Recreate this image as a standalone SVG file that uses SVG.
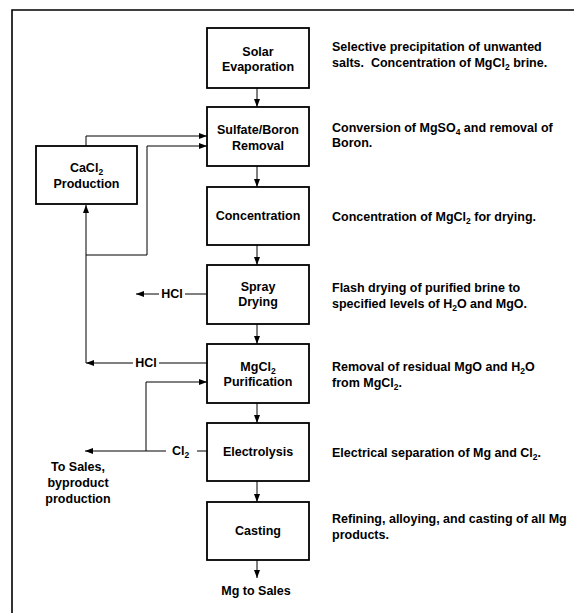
<svg xmlns="http://www.w3.org/2000/svg" width="574" height="613" viewBox="0 0 574 613">
<style>
  .box { fill: #fff; stroke: #000; stroke-width: 1.8; }
  .ln { fill: none; stroke: #000; stroke-width: 1; }
  .arr { marker-end: url(#ah); }
  text { font-family: "Liberation Sans", Arial, sans-serif; font-size: 12.5px; font-weight: bold; fill: #000; }
  .c { text-anchor: middle; }
  .sub { font-size: 8.5px; }
</style>
<defs>
  <marker id="ah" viewBox="0 0 8 6" refX="8" refY="3" markerWidth="8" markerHeight="6" orient="auto" markerUnits="userSpaceOnUse">
    <path d="M0,0 L8,3 L0,6 z" fill="#000"/>
  </marker>
</defs>
<rect width="574" height="613" fill="#fff"/>
<path d="M12,613 V10 H574" fill="none" stroke="#000" stroke-width="1.6"/>

<g id="connectors">
  <path class="ln arr" d="M257,88 V107"/>
  <path class="ln arr" d="M257,166 V187"/>
  <path class="ln arr" d="M257,245 V265"/>
  <path class="ln arr" d="M257,324 V344"/>
  <path class="ln arr" d="M257,403 V423"/>
  <path class="ln arr" d="M257,481 V502"/>
  <path class="ln arr" d="M257,560 V578"/>
  <path class="ln arr" d="M86,146 V136 H207"/>
  <path class="ln arr" d="M86,255 H147 V146 H207"/>
  <path class="ln" d="M207,294 H185"/>
  <path class="ln arr" d="M159,294 H136"/>
  <path class="ln" d="M207,363 H159"/>
  <path class="ln arr" d="M133,363 H86"/>
  <path class="ln arr" d="M86,363 V205"/>
  <path class="ln" d="M207,451 H197"/>
  <path class="ln arr" d="M166,451 H85"/>
  <path class="ln arr" d="M146,451 V382 H207"/>
</g>

<g id="solar">
  <rect class="box" x="207" y="28" width="102" height="60"/>
  <text class="c" x="258" y="56">Solar</text>
  <text class="c" x="258" y="71">Evaporation</text>
  <text x="332" y="51">Selective precipitation of unwanted</text>
  <text x="332" y="67">salts.&#160; Concentration of MgCl<tspan class="sub" dy="3">2</tspan><tspan dy="-3"> brine.</tspan></text>
</g>
<g id="sulfate">
  <rect class="box" x="207" y="107" width="102" height="59"/>
  <text class="c" x="258" y="134">Sulfate/Boron</text>
  <text class="c" x="258" y="150">Removal</text>
  <text x="332" y="132">Conversion of MgSO<tspan class="sub" dy="3">4</tspan><tspan dy="-3"> and removal of</tspan></text>
  <text x="332" y="147">Boron.</text>
</g>
<g id="cacl2">
  <rect class="box" x="36" y="146" width="101" height="58"/>
  <text class="c" x="86.5" y="172">CaCl<tspan class="sub" dy="3">2</tspan></text>
  <text class="c" x="86.5" y="188">Production</text>
</g>
<g id="concentration">
  <rect class="box" x="207" y="187" width="102" height="58"/>
  <text class="c" x="258" y="220">Concentration</text>
  <text x="332" y="221">Concentration of MgCl<tspan class="sub" dy="3">2</tspan><tspan dy="-3"> for drying.</tspan></text>
</g>
<g id="spray">
  <rect class="box" x="207" y="265" width="102" height="59"/>
  <text class="c" x="258" y="291">Spray</text>
  <text class="c" x="258" y="306">Drying</text>
  <text x="332" y="292">Flash drying of purified brine to</text>
  <text x="332" y="308">specified levels of H<tspan class="sub" dy="3">2</tspan><tspan dy="-3">O and MgO.</tspan></text>
  <text class="c" x="172" y="298">HCl</text>
</g>
<g id="purification">
  <rect class="box" x="207" y="344" width="102" height="59"/>
  <text class="c" x="258" y="371">MgCl<tspan class="sub" dy="3">2</tspan></text>
  <text class="c" x="258" y="386">Purification</text>
  <text x="332" y="371">Removal of residual MgO and H<tspan class="sub" dy="3">2</tspan><tspan dy="-3">O</tspan></text>
  <text x="332" y="387">from MgCl<tspan class="sub" dy="3">2</tspan><tspan dy="-3">.</tspan></text>
  <text class="c" x="146" y="367">HCl</text>
</g>
<g id="electrolysis">
  <rect class="box" x="207" y="423" width="102" height="58"/>
  <text class="c" x="258" y="456">Electrolysis</text>
  <text x="332" y="457">Electrical separation of Mg and Cl<tspan class="sub" dy="3">2</tspan><tspan dy="-3">.</tspan></text>
  <text x="172" y="455">Cl<tspan class="sub" dy="3">2</tspan></text>
  <text class="c" x="78" y="471">To Sales,</text>
  <text class="c" x="78" y="487">byproduct</text>
  <text class="c" x="78" y="503">production</text>
</g>
<g id="casting">
  <rect class="box" x="207" y="502" width="102" height="58"/>
  <text class="c" x="258" y="535">Casting</text>
  <text x="332" y="523">Refining, alloying, and casting of all Mg</text>
  <text x="332" y="539">products.</text>
  <text class="c" x="256" y="595">Mg to Sales</text>
</g>
</svg>
